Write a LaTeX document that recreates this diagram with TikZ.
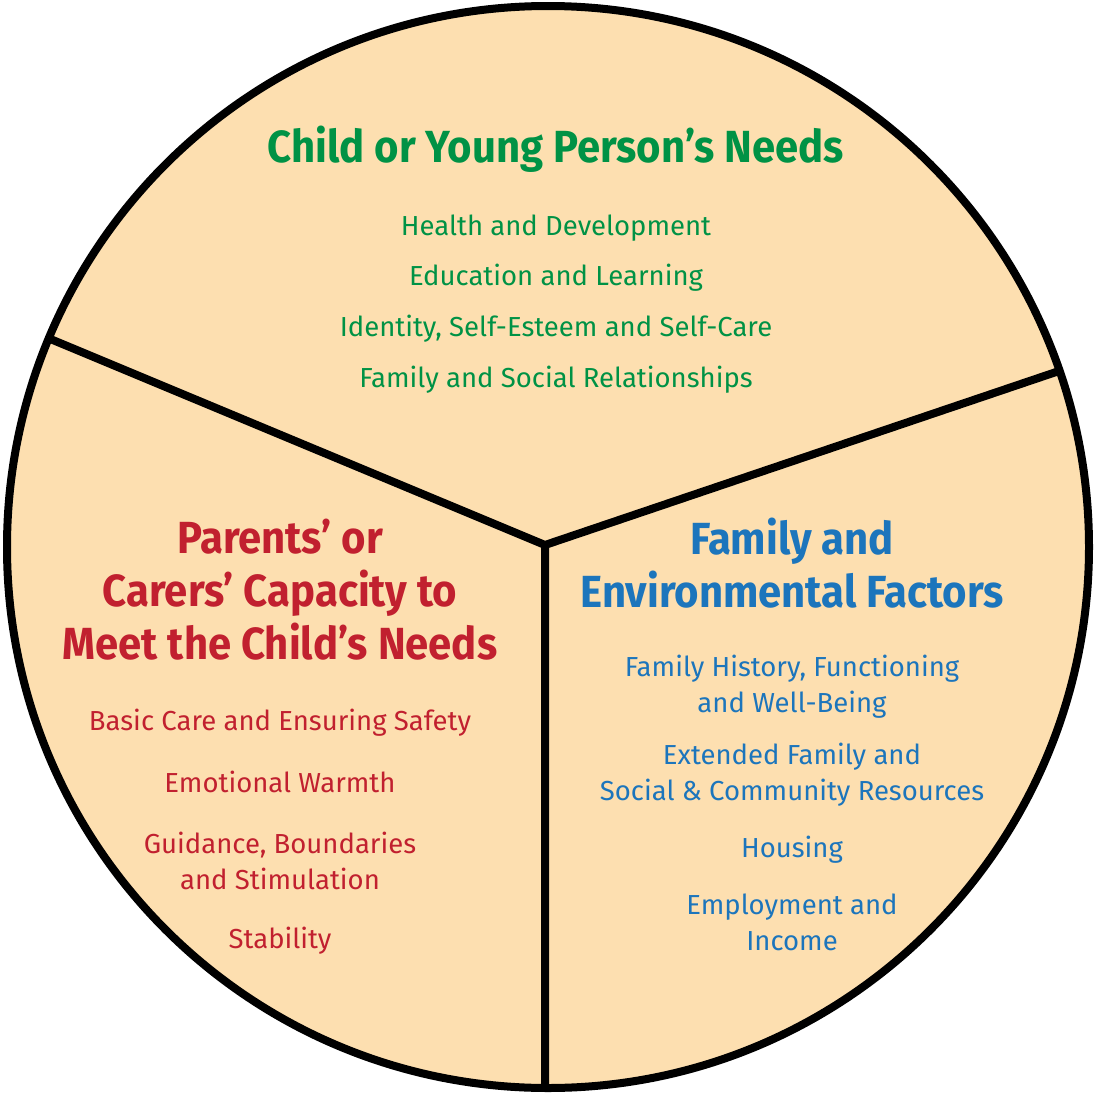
\documentclass[tikz,border=0pt]{standalone}
\usepackage{fontspec}
\setmainfont{Fira Sans}
\newfontfamily\headfont[FakeStretch=0.93]{Fira Sans Bold}
\definecolor{peach}{RGB}{253,223,176}
\definecolor{needsgreen}{RGB}{0,146,69}
\definecolor{carerred}{RGB}{193,32,47}
\definecolor{envblue}{RGB}{28,117,188}
\tikzset{
  heading/.style={align=center, inner sep=0pt, font=\headfont\fontsize{45}{53}\selectfont},
  item/.style={align=center, inner sep=0pt, font=\fontsize{27.5}{36}\selectfont},
}
\begin{document}
\begin{tikzpicture}[x=1pt,y=-1pt]
\useasboundingbox (0,0) rectangle (1096,1095);
\coordinate (hub) at (545,545);
\coordinate (left) at (48,338);
\coordinate (right) at (1062,370);
\coordinate (bottom) at (545,1088);
\fill[peach] (548,547) circle (541);
\draw[line width=8pt] (left) -- (hub) -- (right)
  (hub) -- (bottom);
\draw[line width=8pt] (548,547) circle (541);

% child's needs
\node[heading, needsgreen] (childhead) at (556,149) {Child or Young Person’s Needs};
\node[item, needsgreen] (health) at (556,228) {Health and Development};
\node[item, needsgreen] (educ) at (556,278) {Education and Learning};
\node[item, needsgreen] (ident) at (556,329) {Identity, Self-Esteem and Self-Care};
\node[item, needsgreen] (famsoc) at (556,380) {Family and Social Relationships};

% parents' capacity
\node[heading, carerred] (carerhead) at (280,590) {Parents’ or\\Carers’ Capacity to\\Meet the Child’s Needs};
\node[item, carerred] (basic) at (280,723) {Basic Care and Ensuring Safety};
\node[item, carerred] (warmth) at (280,782) {Emotional Warmth};
\node[item, carerred] (guide) at (280,861) {Guidance, Boundaries\\and Stimulation};
\node[item, carerred] (stab) at (280,941) {Stability};

% environment
\node[heading, envblue] (envhead) at (792,563) {Family and\\Environmental Factors};
\node[item, envblue] (history) at (792,687) {Family History, Functioning\\and Well-Being};
\node[item, envblue] (extended) at (792,775) {Extended Family and\\Social \& Community Resources};
\node[item, envblue] (housing) at (792,850) {Housing};
\node[item, envblue] (employ) at (792,922) {Employment and\\Income};
\end{tikzpicture}
\end{document}
